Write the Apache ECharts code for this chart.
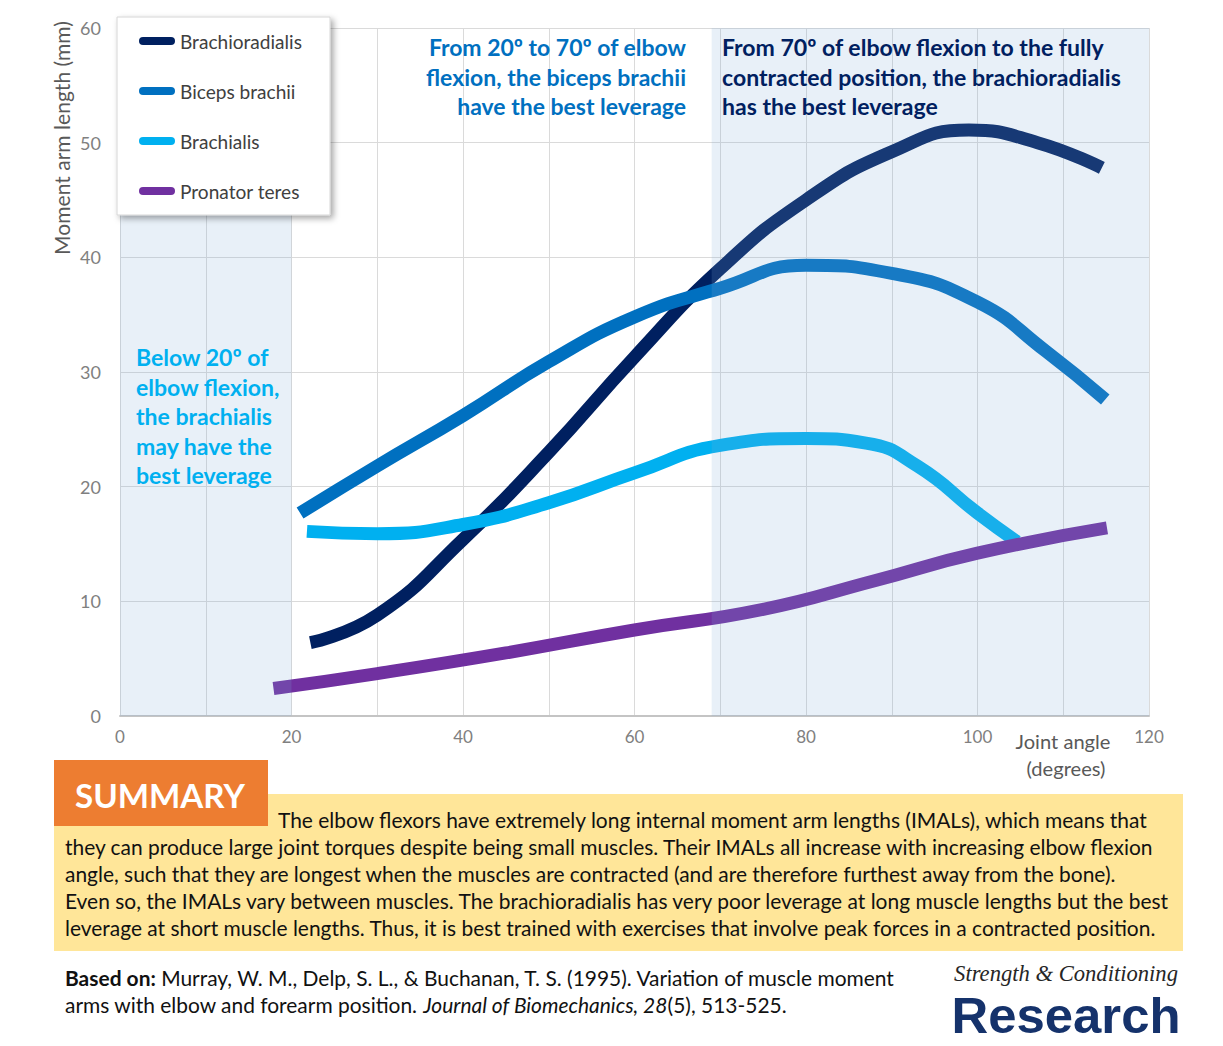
<!DOCTYPE html>
<html><head><meta charset="utf-8">
<script src="https://cdn.jsdelivr.net/npm/echarts@6/dist/echarts.min.js"></script>
<style>html,body{margin:0;padding:0;background:#fff}#c{width:1223px;height:1046px}</style>
</head><body><div id="c"></div>
<script>
// ---------- data ----------
const seriesNames = ['Brachioradialis', 'Biceps brachii', 'Brachialis', 'Pronator teres'];
const seriesColors = ['#002060', '#0070c0', '#00b0f0', '#7030a0'];
// [joint angle (deg), moment arm (mm)]
const brachioradialis = [[22.2,6.4],[30,8.8],[40,15.4],[50,23],[60,31.3],[70,39],[80,45],[90,49.2],[99,51.1],[107,50],[114.5,47.8]];
const bicepsBrachii = [[21,17.7],[30,21.8],[40,26.2],[50,30.9],[60,34.8],[70,37.3],[80,39.3],[90,38.6],[100,36.1],[108,31.8],[114.9,27.6]];
const brachialis = [[21.8,16.1],[30,15.9],[40,16.7],[50,18.6],[60,21.2],[70,23.6],[80,24.2],[87,23.8],[93,21.8],[100,17.7],[104.6,15.2]];
const pronatorTeres = [[17.9,2.4],[30,3.7],[45,5.5],[60,7.5],[75,9.3],[88,11.8],[100,14.2],[115.1,16.4]];
const seriesData = [brachioradialis, bicepsBrachii, brachialis, pronatorTeres];
const shadeRanges = [[0,20],[69,120]];
const yTicks = [0,10,20,30,40,50,60];
const xLabelTicks = [0,20,40,60,80,100,120];

const yAxisTitle = 'Moment arm length (mm)';
const xAxisTitle = ['Joint angle', '(degrees)'];
const noteLeft = ['Below 20º of', 'elbow flexion,', 'the brachialis', 'may have the', 'best leverage'];
const noteMid = ['From 20º to 70º of elbow', 'flexion, the biceps brachii', 'have the best leverage'];
const noteRight = ['From 70º of elbow flexion to the fully', 'contracted position, the brachioradialis', 'has the best leverage'];
const summaryTitle = 'SUMMARY';
const summaryLines = [
  'The elbow flexors have extremely long internal moment arm lengths (IMALs), which means that',
  'they can produce large joint torques despite being small muscles. Their IMALs all increase with increasing elbow flexion',
  'angle, such that they are longest when the muscles are contracted (and are therefore furthest away from the bone).',
  'Even so, the IMALs vary between muscles. The brachioradialis has very poor leverage at long muscle lengths but the best',
  'leverage at short muscle lengths. Thus, it is best trained with exercises that involve peak forces in a contracted position.'
];
const refLine1 = [['Based on:', 'bold', 'normal'], [' Murray, W. M., Delp, S. L., & Buchanan, T. S. (1995). Variation of muscle moment', 'normal', 'normal']];
const refLine2 = [['arms with elbow and forearm position. ', 'normal', 'normal'], ['Journal of Biomechanics, 28', 'normal', 'italic'], ['(5), 513-525.', 'normal', 'normal']];
const logoTop = 'Strength & Conditioning';
const logoBottom = 'Research';

// ---------- helpers ----------
const FONT = 'Lato, "Open Sans", sans-serif';
const ctx = document.createElement('canvas').getContext('2d');
function tw(t, size, weight, style, family) {
  ctx.font = (style || 'normal') + ' ' + (weight || 'normal') + ' ' + size + 'px ' + (family || FONT);
  return ctx.measureText(t).width;
}
function fit(t, target, weight, style, family) { return 100 * target / tw(t, 100, weight, style, family); }
function txt(text, x, y, o) {
  o = o || {};
  const align = o.align || 'left', va = o.va || 'middle';
  return {
    type: 'text', z: 100, silent: true, x: x, y: y, rotation: o.rotation || 0,
    style: {
      text: text, x: 0, y: 0, fill: o.fill || '#000',
      fontFamily: o.family || FONT, fontSize: o.size || 16,
      fontWeight: o.weight || 'normal', fontStyle: o.style || 'normal',
      align: align, textAlign: align, verticalAlign: va, textVerticalAlign: va
    }
  };
}

const graphics = [];
// y axis title
const yTitleSize = fit(yAxisTitle, 234);
graphics.push(txt(yAxisTitle, 61, 138, { size: yTitleSize, fill: '#595959', align: 'center', rotation: Math.PI / 2 }));
// x axis title
const xTitleSize = fit(xAxisTitle[0], 95);
graphics.push(txt(xAxisTitle[0], 1063, 741, { size: xTitleSize, fill: '#595959', align: 'center' }));
graphics.push(txt(xAxisTitle[1], 1066, 768, { size: xTitleSize, fill: '#595959', align: 'center' }));

// annotations
const leftSize = fit(noteLeft[1], 144, 'bold');
noteLeft.forEach((l, i) => graphics.push(txt(l, 136, 357 + i * 29.5, { size: leftSize, weight: 'bold', fill: '#00b0f0' })));
const midSize = fit(noteMid[1], 260, 'bold');
noteMid.forEach((l, i) => graphics.push(txt(l, 686, 47 + i * 29.5, { size: midSize, weight: 'bold', fill: '#0070c0', align: 'right' })));
const rightSize = fit(noteRight[1], 399, 'bold');
noteRight.forEach((l, i) => graphics.push(txt(l, 722, 47 + i * 29.5, { size: rightSize, weight: 'bold', fill: '#002060' })));

// summary boxes
graphics.push({ type: 'rect', z: 90, silent: true, shape: { x: 54, y: 794, width: 1129, height: 157 }, style: { fill: '#ffe699' } });
graphics.push({ type: 'rect', z: 91, silent: true, shape: { x: 54, y: 760, width: 214, height: 66 }, style: { fill: '#ed7d31' } });
graphics.push(txt(summaryTitle, 160, 795, { size: fit(summaryTitle, 170, 'bold'), weight: 'bold', fill: '#ffffff', align: 'center' }));
const sumSize = (fit(summaryLines[1], 1093) + fit(summaryLines[3], 1103) + fit(summaryLines[4], 1093)) / 3;
summaryLines.forEach((l, i) => graphics.push(txt(l, i === 0 ? 278 : 65, 819 + i * 27, { size: sumSize, fill: '#111' })));

// reference
function segWidth(segs, size) { return segs.reduce((a, s) => a + tw(s[0], size, s[1], s[2]), 0); }
const refSize = 100 * 831 / segWidth(refLine1, 100);
function placeSegs(segs, x, y) {
  segs.forEach(s => { graphics.push(txt(s[0], x, y, { size: refSize, weight: s[1], style: s[2], fill: '#111' })); x += tw(s[0], refSize, s[1], s[2]); });
}
placeSegs(refLine1, 65, 977);
placeSegs(refLine2, 65, 1004);

// logo
const serif = '"Liberation Serif", "DejaVu Serif", serif';
graphics.push(txt(logoTop, 1066, 973, { size: fit(logoTop, 224, 'normal', 'italic', serif), style: 'italic', family: serif, fill: '#262626', align: 'center' }));
const sans = '"Liberation Sans", Arial, sans-serif';
graphics.push(txt(logoBottom, 1066, 1015, { size: fit(logoBottom, 229, 'bold', 'normal', sans), weight: 'bold', family: sans, fill: '#15326b', align: 'center' }));

// legend font
const legendSize = fit(seriesNames[0], 122);

// ---------- chart ----------
const chart = echarts.init(document.getElementById('c'), null, { renderer: 'svg' });
const lineSeries = seriesNames.map((n, i) => ({
  name: n, type: 'line', data: seriesData[i], smooth: 0.5, showSymbol: false, symbol: 'none',
  z: 2, color: seriesColors[i],
  lineStyle: { width: 13, color: seriesColors[i], cap: 'butt' },
  emphasis: { disabled: true }, animation: false
}));
chart.setOption({
  animation: false,
  grid: { left: 120, right: 74, top: 28, bottom: 330, containLabel: false },
  xAxis: {
    type: 'value', min: 0, max: 120, interval: 10,
    axisLine: { show: true, lineStyle: { color: '#c4c4c4', width: 2 } },
    axisTick: { show: false },
    splitLine: { show: true, lineStyle: { color: '#dadada', width: 1 } },
    axisLabel: { margin: 12, color: '#808080', fontFamily: FONT, fontSize: 17,
      formatter: v => xLabelTicks.indexOf(v) >= 0 ? String(v) : '' }
  },
  yAxis: {
    type: 'value', min: 0, max: 60, interval: 10,
    axisLine: { show: false }, axisTick: { show: false },
    splitLine: { show: true, lineStyle: { color: '#dadada', width: 1 } },
    axisLabel: { margin: 19, color: '#808080', fontFamily: FONT, fontSize: 18,
      formatter: v => yTicks.indexOf(v) >= 0 ? String(v) : '' }
  },
  legend: {
    data: seriesNames, orient: 'vertical', left: 117, top: 17,
    padding: [14, 150 - tw(seriesNames[0], legendSize), 14, 22],
    itemGap: 30, itemWidth: 36, itemHeight: 8,
    icon: 'path://M4,0 H32 A4,4 0 0 1 32,8 H4 A4,4 0 0 1 4,0 Z',
    backgroundColor: '#ffffff', borderColor: '#d6d6d6', borderWidth: 1,
    shadowColor: 'rgba(0,0,0,0.35)', shadowBlur: 6, shadowOffsetX: 3, shadowOffsetY: 3,
    textStyle: { color: '#404040', fontFamily: FONT, fontSize: legendSize, lineHeight: 20 },
    selectedMode: false, z: 20
  },
  series: lineSeries.concat([{
    type: 'custom', name: 'shade', silent: true, z: 5,
    data: shadeRanges,
    encode: { x: [0, 1] },
    renderItem: function (params, api) {
      const p0 = api.coord([api.value(0), 60]);
      const p1 = api.coord([api.value(1), 0]);
      return { type: 'rect', shape: { x: p0[0], y: p0[1], width: p1[0] - p0[0], height: p1[1] - p0[1] },
        style: { fill: 'rgba(130,170,215,0.18)' } };
    }
  }]),
  graphic: { elements: graphics }
});
</script>
</body></html>
